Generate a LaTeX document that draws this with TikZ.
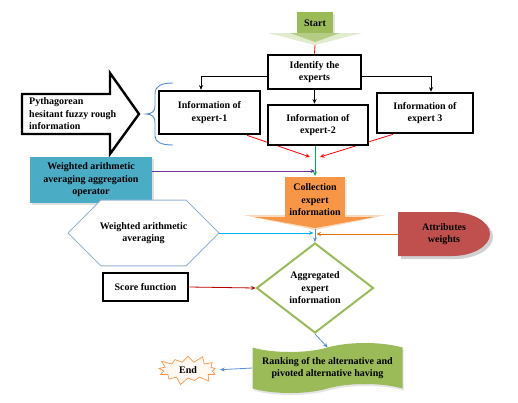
\documentclass[tikz,border=0pt]{standalone}
\usepackage{fontspec}
\setmainfont{Liberation Serif}
\usetikzlibrary{arrows.meta,shapes.symbols,shapes.geometric,shapes.misc,shadows,backgrounds,calc}
\definecolor{cgreen}{HTML}{9BBB59}
\definecolor{corange}{HTML}{F79646}
\definecolor{cteal}{HTML}{4BACC6}
\definecolor{cred}{HTML}{C0504D}
\definecolor{cpurple}{HTML}{7030A0}
\definecolor{ccyan}{HTML}{00B0F0}
\definecolor{cblue}{HTML}{558ED5}
\definecolor{chex}{HTML}{95B3D7}
\definecolor{cdred}{HTML}{C00000}
\definecolor{cgline}{HTML}{00B050}
\definecolor{coline}{HTML}{E46C0A}
\begin{document}
\begin{tikzpicture}[x=1pt,y=-1pt,
  font=\bfseries\fontsize{10}{12.5}\selectfont,
  box/.style={draw=black, line width=2.6pt, fill=white, align=center, inner sep=0pt},
  arr/.style={-{Stealth[length=4.5pt,width=4pt]}, line width=0.8pt},
  plain/.style={align=center, inner sep=0pt}]
\useasboundingbox (0,0) rectangle (518,402);
\begin{scope}[on background layer]
\fill[white] (0,0) rectangle (518,402);
\end{scope}

% Start
\node[plain, minimum width=36pt, minimum height=21pt] (start) at (315,23) {Start};
\coordinate (starttip) at (315,45);
\begin{scope}[on background layer]
\fill[black!10] (299,14) rectangle (335,34);
\fill[cgreen] (297,12) rectangle (333,33);
\fill[cgreen!30!white] (268,33) -- (362,33) -- (315,45) -- cycle;
\fill[cgreen!75!white] (290,33) -- (340,33) -- (315,42) -- cycle;
\end{scope}

% Identify
\node[box, minimum width=93pt, minimum height=34pt] (identify) at (314.5,72) {Identify the\\experts};
\draw[red, line width=0.8pt] (starttip) -- (identify.north);

% experts
\node[box, minimum width=101pt, minimum height=43pt] (e1) at (209.5,112.5) {Information of\\expert-1};
\node[box, minimum width=96pt, minimum height=40pt] (e3) at (425,113) {Information of\\expert 3};
\coordinate (convL) at (310,157);
\coordinate (convR) at (320,157);
\draw[arr, red] ([xshift=37.5pt]e1.south) -- (convL);
\draw[arr, red] ([xshift=-32pt]e3.south) -- (convR);
\node[box, minimum width=100pt, minimum height=40pt] (e2) at (318,125) {Information of\\expert-2};

\draw[arr] ([yshift=-4pt]identify.west) -| ([xshift=-8.5pt]e1.north);
\draw[arr] ([yshift=-4pt]identify.east) -| ([xshift=6pt]e3.north);
\draw[arr] (identify.south) -- (identify.south |- e2.north);

% Pythagorean arrow
\draw[line width=2.4pt, fill=white, line join=miter] (22,94) -- (110,94) -- (110,73) -- (139,114) -- (110,154) -- (110,134) -- (22,134) -- cycle;
\node[align=left, anchor=west, inner sep=0pt] (pyth) at (29,114) {Pythagorean\\hesitant fuzzy rough\\information};

% brace
\draw[cblue, line width=0.9pt] (173,83) .. controls (161,83) and (155,86) .. (155,94) -- (155,106) .. controls (155,111) and (152,114) .. (146,114) .. controls (152,114) and (155,117) .. (155,122) -- (155,136) .. controls (155,142) and (161,145) .. (173,145);

% Collection
\node[plain] (coll) at (315,200) {Collection\\expert\\information};
\coordinate (colltop) at (315,176);
\coordinate (colltip) at (315,229);
\coordinate (pin) at (315,171);
\begin{scope}[on background layer]
\fill[black!8] (287,179) rectangle (347,219);
\fill[corange!35!white] (243,215) -- (386,215) -- (315,230) -- cycle;
\fill[corange] (285,177) rectangle (345,218);
\fill[corange] (254,217) -- (375,217) -- (315,228) -- cycle;
\end{scope}
\draw[arr, cgline] (e2.south -| colltop) -- (colltop);

% teal box
\node[fill=cteal, minimum width=122pt, minimum height=46pt, align=center, inner sep=0pt,
  drop shadow={opacity=0.25, shadow xshift=2pt, shadow yshift=-2pt}]
  (wa) at (91,180) {Weighted arithmetic\\averaging aggregation\\operator};
\draw[arr, cpurple] (wa.east |- pin) -- (pin);

% hexagon
\node[chamfered rectangle, chamfered rectangle xsep=35pt, chamfered rectangle ysep=22pt, draw=chex, line width=0.9pt,
  fill=white, minimum width=151pt, minimum height=44pt, inner sep=0pt,
  align=center] (hex) at (143.5,233) {Weighted arithmetic\\averaging};

% attributes
\node[plain, minimum width=92pt, minimum height=44pt] (attr) at (444,234) {Attributes\\weights};
\begin{scope}[on background layer]
\fill[black!18] (401,215) -- (455,215) .. controls (476,215) and (493,225) .. (493,237) .. controls (493,249) and (476,259) .. (455,259) -- (401,259) -- cycle;
\fill[cred] (398,212) -- (452,212) .. controls (473,212) and (490,222) .. (490,234) .. controls (490,246) and (473,256) .. (452,256) -- (398,256) -- cycle;
\end{scope}

% diamond
\node[diamond, draw=cgreen, line width=2pt, fill=white, minimum width=117pt, minimum height=90pt,
  aspect=1.3, align=center, inner sep=0pt] (agg) at (315,288) {Aggregated\\expert\\information};

\draw[arr, cblue] (colltip) -- (agg.north);
\draw[arr, ccyan, shorten >=1.5pt] (hex.east) -- (hex.east -| colltip);
\draw[arr, coline, shorten >=1.5pt] (attr.west) -- (attr.west -| colltip);

% score
\node[box, minimum width=85pt, minimum height=28pt] (score) at (145.5,287) {Score function};
\draw[arr, cdred] (score.east) -- (agg.west);

% ranking
\node[tape, fill=cgreen, minimum width=150pt, minimum height=50pt, tape bend height=9pt, align=center,
  inner sep=2pt, drop shadow={opacity=0.2, shadow xshift=1pt, shadow yshift=-2pt}]
  (rank) at (327.5,368) {Ranking of the alternative and\\pivoted alternative having};
\draw[arr, cblue] (agg.south) -- (rank.north);

% end
\node[starburst, draw=corange, fill=corange!6, line width=0.7pt, minimum width=65pt, minimum height=32pt,
  starburst points=13, starburst point height=8pt, inner sep=0pt] (end) at (188,370) {End};
\draw[arr, cblue, shorten >=6pt] (rank.west) -- (end.east);
\end{tikzpicture}
\end{document}
